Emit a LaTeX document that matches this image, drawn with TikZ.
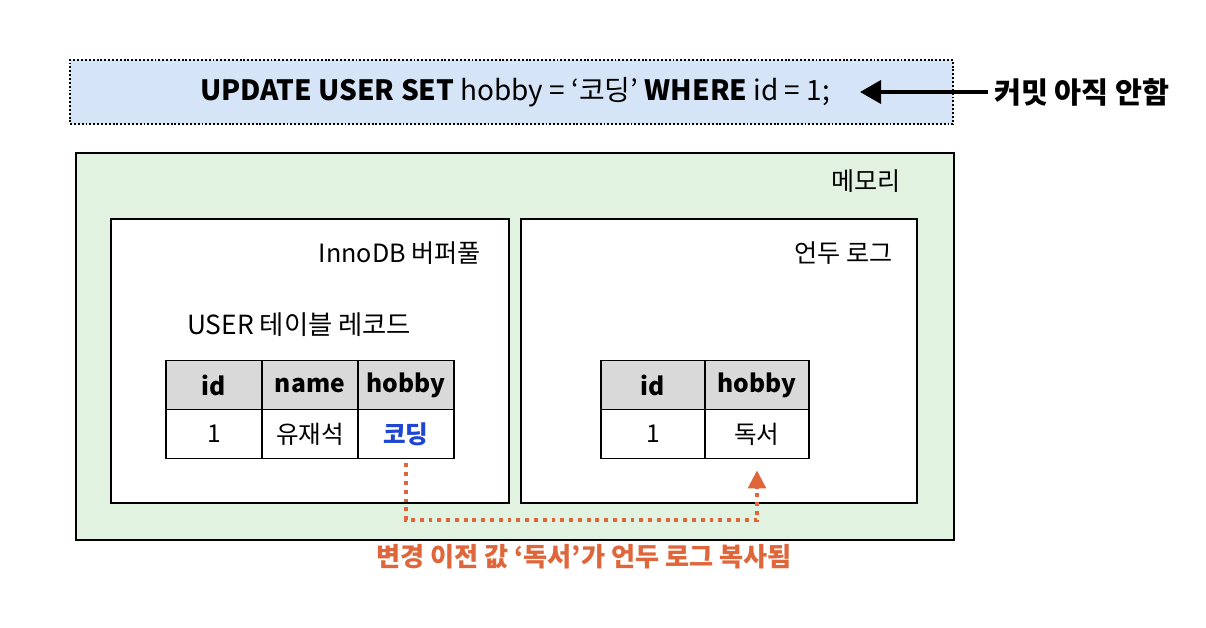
\documentclass[tikz,border=0pt]{standalone}
\usepackage{fontspec}
\setmainfont{Noto Sans CJK KR}
\usepackage{tikz}
\usetikzlibrary{arrows.meta,positioning}
\definecolor{sqlblue}{RGB}{214,228,248}
\definecolor{memgreen}{RGB}{226,242,224}
\definecolor{headgray}{RGB}{217,217,217}
\definecolor{undoorange}{RGB}{222,102,58}
\definecolor{newblue}{RGB}{30,70,210}

\begin{document}
\begin{tikzpicture}[x=0.02cm, y=-0.02cm,
    box/.style={draw=black, line width=1.4pt, fill=white},
    cell/.style={draw=black, line width=1.1pt, fill=white, minimum width=1.92cm,
                 minimum height=0.98cm, inner sep=0pt, outer sep=0pt,
                 font=\fontsize{14}{16}\selectfont},
    headcell/.style={cell, fill=headgray, font=\fontsize{14}{16}\selectfont\bfseries},
    boxlabel/.style={anchor=east, font=\fontsize{14.3}{16}\selectfont},
    copyline/.style={draw=undoorange, line width=1.8pt, dash pattern=on 2.2pt off 2.8pt,
                     -{Triangle[length=0.36cm, width=0.36cm]}}]
  \useasboundingbox (0,0) rectangle (1206,628);
  % the statement, not yet committed
  \node[draw=black, line width=1.1pt, dash pattern=on 1.1pt off 1.1pt, fill=sqlblue,
        minimum width=17.66cm, minimum height=1.28cm, inner sep=0pt]
        (sql) at (511.5,92) {};
  \node[font=\fontsize{15.9}{18}\selectfont] (sqltext) at (515,92)
        {\textbf{UPDATE USER SET} hobby = ‘코딩’ \textbf{WHERE} id = 1;};
  \node[anchor=west, font=\fontsize{16.7}{19}\selectfont\bfseries] (nocommit) at (988,92) {커밋 아직 안함};
  \draw[line width=2.2pt, -{Triangle[length=0.42cm, width=0.46cm]}]
       (nocommit.west) -- (860,92);
  % memory
  \draw[box, fill=memgreen] (76,153) rectangle (954,540);
  \node[boxlabel] (mem) at (907,181) {메모리};
  \draw[box] (111,219) rectangle (509,503);
  \node[boxlabel] (pool) at (487,253) {InnoDB 버퍼풀};
  \draw[box] (521,219) rectangle (917,503);
  \node[boxlabel] (undo) at (899,253) {언두 로그};
  % user table record
  \node[anchor=west, font=\fontsize{15}{17}\selectfont] (rec) at (181,325) {USER 테이블 레코드};
  \node[headcell] (u11) at (214,385) {id};
  \node[headcell, right=0pt of u11] (u12) {name};
  \node[headcell, right=0pt of u12] (u13) {hobby};
  \node[cell, below=0pt of u11] (u21) {1};
  \node[cell, below=0pt of u12] (u22) {유재석};
  \node[cell, below=0pt of u13, text=newblue, font=\fontsize{14}{16}\selectfont\bfseries] (u23) {코딩};
  % undo log record
  \node[headcell, minimum width=2.08cm] (g11) at (653,385) {id};
  \node[headcell, minimum width=2.08cm, right=0pt of g11] (g12) {hobby};
  \node[cell, minimum width=2.08cm, below=0pt of g11] (g21) {1};
  \node[cell, minimum width=2.08cm, below=0pt of g12] (g22) {독서};
  % old value copied to undo log
  \coordinate (low) at (0,520);
  \draw[copyline, shorten <=0.1cm, shorten >=0.24cm]
       (u23.south) -- (u23.south |- low) -| (g22.south);
  \node[font=\fontsize{14.9}{17}\selectfont\bfseries, text=undoorange] (copied) at (584,557)
       {변경 이전 값 ‘독서’가 언두 로그 복사됨};
\end{tikzpicture}
\end{document}
